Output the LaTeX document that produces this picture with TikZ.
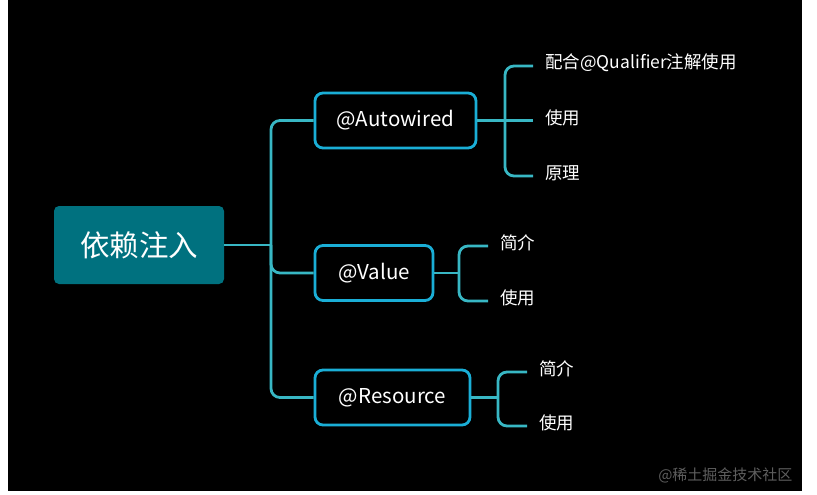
\documentclass[tikz,border=0pt]{standalone}
\usepackage{fontspec}
\setmainfont{Noto Sans CJK SC}
\newfontfamily\cjk{Noto Sans CJK SC}
\begin{document}
\begin{tikzpicture}[x=1pt,y=-1pt,
  every node/.style={font=\cjk, text=white},
  rootbox/.style={fill=rootfill, rounded corners=5pt, minimum width=170pt, minimum height=78pt, font=\cjk\fontsize{29.5}{32}\selectfont},
  subbox/.style={draw=boxline, line width=2.8pt, rounded corners=8pt, minimum height=55pt, font=\cjk\fontsize{20.5}{23}\selectfont},
  leaf/.style={anchor=west, inner xsep=12pt, inner ysep=0pt, yshift=3pt, font=\cjk\fontsize{17.5}{20}\selectfont},
  conn/.style={draw=connline, line width=2.8pt},
  wm/.style={text=wmgray, font=\cjk\fontsize{15}{17}\selectfont, anchor=east}
]
\definecolor{rootfill}{HTML}{00717F}
\definecolor{boxline}{HTML}{1AAED6}
\definecolor{connline}{HTML}{38B7C4}
\definecolor{wmgray}{HTML}{5E5E5E}
\definecolor{bg}{HTML}{000000}
\useasboundingbox (0,0) rectangle (817,495);
\fill[white] (0,0) rectangle (817,495);
\fill[bg] (8,0) rectangle (802,491);

\node[rootbox] (root) at (139,245) {依赖注入};
\node[subbox, minimum width=161pt] (auto) at (395.5,120.5) {@Autowired};
\node[subbox, minimum width=118pt] (val) at (374,273) {@Value};
\node[subbox, minimum width=155pt] (res) at (392.5,397.5) {@Resource};

\coordinate (trunk) at (271,245);
\coordinate (aj) at (505,120.5);
\coordinate (vj) at (459,273);
\coordinate (rj) at (498,397.5);

\node[leaf] (a1) at (533,66) {配合@Qualifier注解使用};
\node[leaf] (a2) at (533,120.5) {使用};
\node[leaf] (a3) at (533,176) {原理};
\node[leaf] (v1) at (488,246) {简介};
\node[leaf] (v2) at (488,301) {使用};
\node[leaf] (r1) at (527,372) {简介};
\node[leaf] (r2) at (527,426) {使用};

\draw[conn] (root.east) -- (trunk);
\draw[conn, rounded corners=9pt] (auto.west) -| (trunk) |- (res.west);
\draw[conn, rounded corners=9pt] (trunk) |- (val.west);

\draw[conn] (auto.east) -- (aj);
\draw[conn, rounded corners=9pt] ([yshift=-3pt]a1.west) -| (aj) |- ([yshift=-3pt]a3.west);
\draw[conn] (aj) -- ([yshift=-3pt]a2.west);

\draw[conn] (val.east) -- (vj);
\draw[conn, rounded corners=9pt] ([yshift=-3pt]v1.west) -| (vj) |- ([yshift=-3pt]v2.west);

\draw[conn] (res.east) -- (rj);
\draw[conn, rounded corners=9pt] ([yshift=-3pt]r1.west) -| (rj) |- ([yshift=-3pt]r2.west);

\node[wm] (wmark) at (796,475) {@稀土掘金技术社区};
\end{tikzpicture}
\end{document}
